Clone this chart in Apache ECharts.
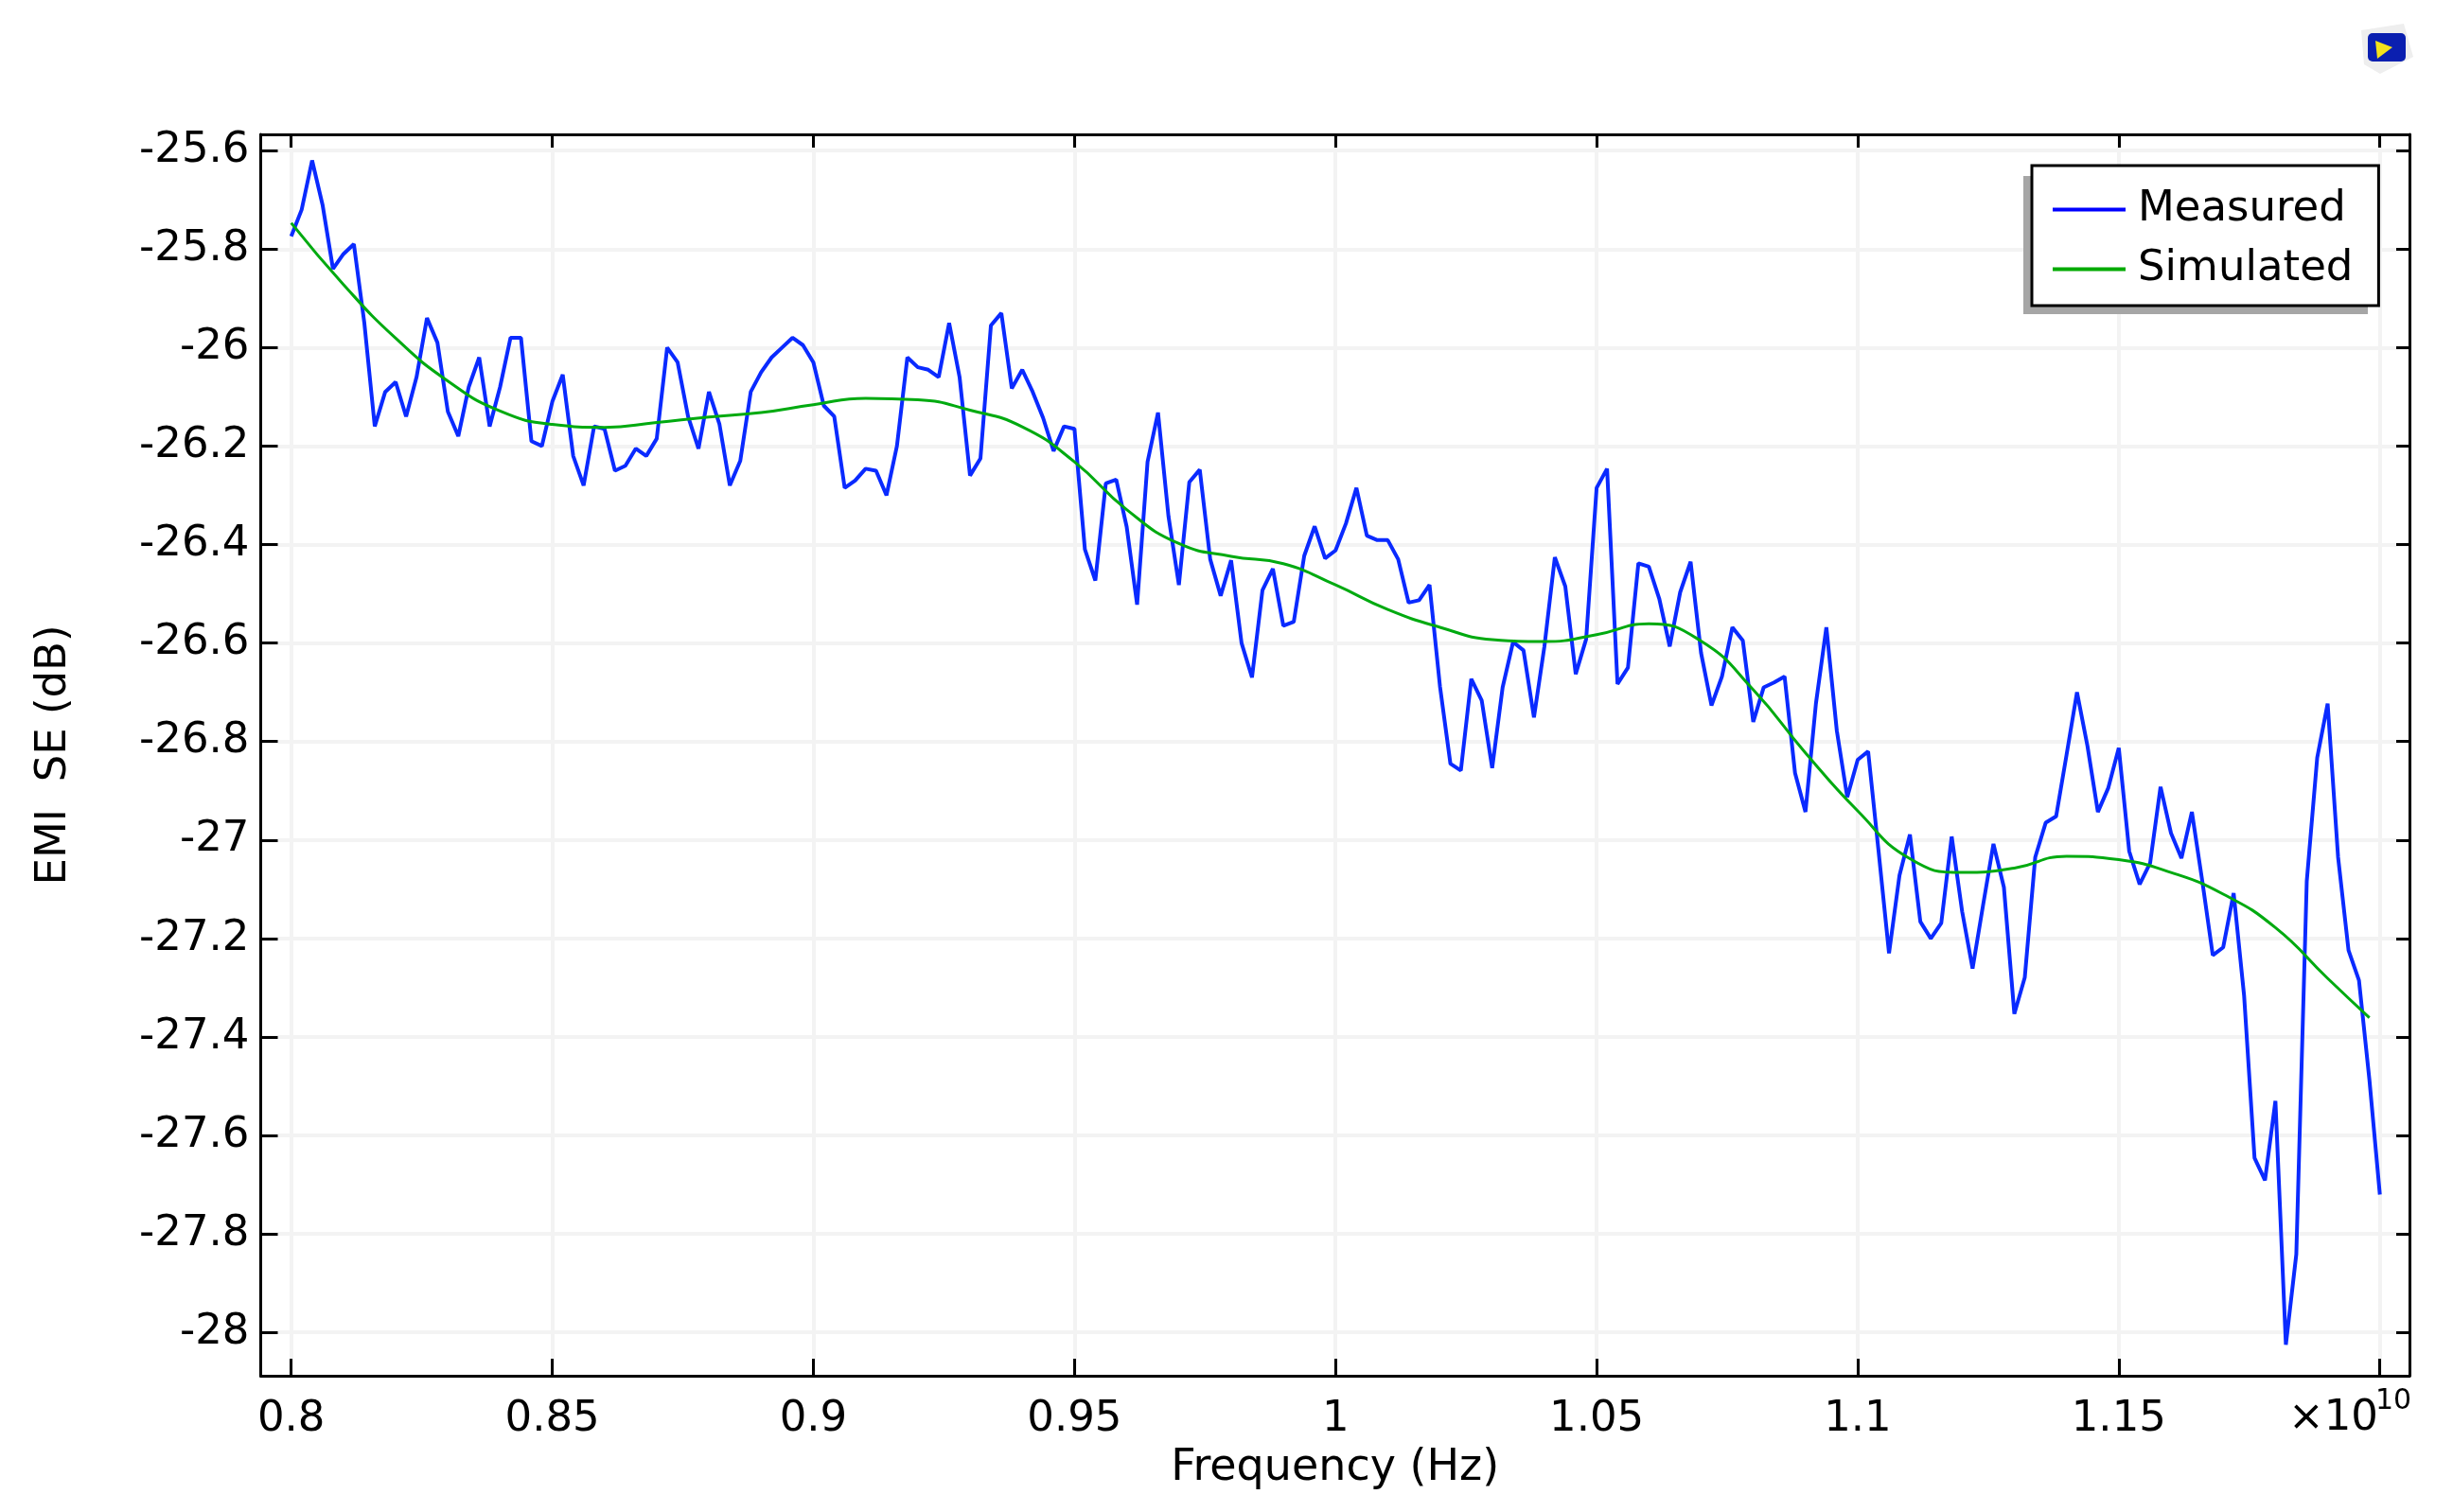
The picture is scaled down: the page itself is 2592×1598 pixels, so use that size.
<!DOCTYPE html>
<html>
<head>
<meta charset="utf-8">
<title>EMI SE</title>
<style>
html,body{margin:0;padding:0;background:#fff;}
#chart{width:2592px;height:1598px;}
</style>
<script src="https://cdn.jsdelivr.net/npm/echarts@6/dist/echarts.min.js"></script>
</head>
<body>
<div id="chart"></div>
<script>
// frequency in units of 1e10 Hz
let measuredFreq = [
0.800,0.802,0.804,0.806,0.808,0.810,0.812,0.814,0.816,0.818,
0.820,0.822,0.824,0.826,0.828,0.830,0.832,0.834,0.836,0.838,
0.840,0.842,0.844,0.846,0.848,0.850,0.852,0.854,0.856,0.858,
0.860,0.862,0.864,0.866,0.868,0.870,0.872,0.874,0.876,0.878,
0.880,0.882,0.884,0.886,0.888,0.890,0.892,0.894,0.896,0.898,
0.900,0.902,0.904,0.906,0.908,0.910,0.912,0.914,0.916,0.918,
0.920,0.922,0.924,0.926,0.928,0.930,0.932,0.934,0.936,0.938,
0.940,0.942,0.944,0.946,0.948,0.950,0.952,0.954,0.956,0.958,
0.960,0.962,0.964,0.966,0.968,0.970,0.972,0.974,0.976,0.978,
0.980,0.982,0.984,0.986,0.988,0.990,0.992,0.994,0.996,0.998,
1.000,1.002,1.004,1.006,1.008,1.010,1.012,1.014,1.016,1.018,
1.020,1.022,1.024,1.026,1.028,1.030,1.032,1.034,1.036,1.038,
1.040,1.042,1.044,1.046,1.048,1.050,1.052,1.054,1.056,1.058,
1.060,1.062,1.064,1.066,1.068,1.070,1.072,1.074,1.076,1.078,
1.080,1.082,1.084,1.086,1.088,1.090,1.092,1.094,1.096,1.098,
1.100,1.102,1.104,1.106,1.108,1.110,1.112,1.114,1.116,1.118,
1.120,1.122,1.124,1.126,1.128,1.130,1.132,1.134,1.136,1.138,
1.140,1.142,1.144,1.146,1.148,1.150,1.152,1.154,1.156,1.158,
1.160,1.162,1.164,1.166,1.168,1.170,1.172,1.174,1.176,1.178,
1.180,1.182,1.184,1.186,1.188,1.190,1.192,1.194,1.196,1.198,
1.200];
let measuredSE = [
-25.774,-25.72,-25.62,-25.71,-25.84,-25.81,-25.79,-25.95,-26.16,-26.09,
-26.07,-26.14,-26.06,-25.94,-25.99,-26.13,-26.18,-26.08,-26.02,-26.16,
-26.08,-25.98,-25.98,-26.19,-26.20,-26.11,-26.055,-26.22,-26.28,-26.16,
-26.165,-26.25,-26.24,-26.205,-26.22,-26.185,-26.0,-26.03,-26.14,-26.205,
-26.09,-26.155,-26.28,-26.23,-26.09,-26.05,-26.02,-26.0,-25.98,-25.995,
-26.03,-26.118,-26.14,-26.285,-26.27,-26.246,-26.25,-26.30,-26.2,-26.02,
-26.04,-26.045,-26.06,-25.95,-26.06,-26.26,-26.225,-25.955,-25.93,-26.083,
-26.045,-26.09,-26.143,-26.21,-26.16,-26.165,-26.41,-26.473,-26.276,-26.268,
-26.364,-26.522,-26.232,-26.132,-26.342,-26.482,-26.273,-26.248,-26.43,-26.504,
-26.432,-26.6,-26.67,-26.493,-26.449,-26.565,-26.557,-26.423,-26.363,-26.428,
-26.412,-26.357,-26.285,-26.382,-26.391,-26.391,-26.43,-26.518,-26.513,-26.482,
-26.688,-26.845,-26.859,-26.673,-26.717,-26.854,-26.69,-26.598,-26.615,-26.751,
-26.607,-26.426,-26.485,-26.663,-26.592,-26.285,-26.246,-26.683,-26.65,-26.438,
-26.445,-26.51,-26.607,-26.497,-26.435,-26.62,-26.727,-26.668,-26.568,-26.595,
-26.76,-26.69,-26.68,-26.668,-26.864,-26.943,-26.723,-26.568,-26.778,-26.913,
-26.837,-26.82,-27.023,-27.23,-27.072,-26.989,-27.166,-27.2,-27.169,-26.993,
-27.145,-27.261,-27.133,-27.008,-27.096,-27.353,-27.279,-27.035,-26.965,-26.952,
-26.827,-26.7,-26.809,-26.943,-26.894,-26.813,-27.023,-27.09,-27.047,-26.892,
-26.986,-27.037,-26.943,-27.084,-27.234,-27.218,-27.108,-27.316,-27.646,-27.691,
-27.53,-28.025,-27.841,-27.084,-26.833,-26.723,-27.035,-27.224,-27.285,-27.487,
-27.72];
let simulatedFreq = [
0.80,0.81,0.82,0.83,0.84,0.85,0.86,0.87,0.88,0.89,
0.90,0.91,0.92,0.93,0.94,0.95,0.96,0.97,0.98,0.99,
1.00,1.01,1.02,1.03,1.04,1.05,1.06,1.07,1.08,1.09,
1.10,1.11,1.12,1.13,1.14,1.15,1.16,1.17,1.18,1.19,1.198];
let simulatedSE = [
-25.747,-25.872,-25.981,-26.068,-26.129,-26.156,-26.162,-26.152,-26.141,-26.132,
-26.116,-26.103,-26.106,-26.127,-26.161,-26.232,-26.329,-26.398,-26.424,-26.439,
-26.482,-26.532,-26.568,-26.593,-26.597,-26.583,-26.561,-26.596,-26.695,-26.823,
-26.941,-27.038,-27.066,-27.057,-27.033,-27.040,-27.066,-27.11,-27.178,-27.281,-27.361];
let xTicks = [0.8,0.85,0.9,0.95,1,1.05,1.1,1.15];
let xGridOnly = [1.2];
let yTicks = [-25.6,-25.8,-26,-26.2,-26.4,-26.6,-26.8,-27,-27.2,-27.4,-27.6,-27.8,-28];

let xMin = 0.79416, xMax = 1.20567;
let yMin = -28.088, yMax = -25.567;
let fontName = '"DejaVu Sans"';

function zip(a,b){
    return a.map(function(v,i){ return [v,b[i]]; });
}

let allXTicks = xTicks.concat(xGridOnly);
let chart = echarts.init(document.getElementById('chart'));
chart.setOption({
    animation:false,
    backgroundColor:'#fff',
    grid:{left:275.5,right:46,top:142,bottom:144,containLabel:false},
    legend:{
        left:2147,top:175,orient:'vertical',selectedMode:false,
        data:['Measured','Simulated'],
        icon:'rect',
        backgroundColor:'#fff',borderColor:'#000',borderWidth:3,
        padding:[19,27,11,22],itemGap:8,itemWidth:77,itemHeight:4,
        textStyle:{fontFamily:fontName,fontSize:45,color:'#000',lineHeight:45,padding:[10,0,0,8]}
    },
    xAxis:[{
        type:'value',min:xMin,max:xMax,position:'bottom',
        name:'Frequency (Hz)',nameLocation:'middle',nameGap:75,
        nameTextStyle:{fontFamily:fontName,fontSize:46,color:'#000'},
        axisLine:{show:true,onZero:false,lineStyle:{color:'#000',width:3}},
        axisTick:{show:true,inside:true,length:18,customValues:allXTicks,lineStyle:{color:'#000',width:3}},
        axisLabel:{customValues:xTicks,margin:24,fontFamily:fontName,fontSize:45,color:'#000'},
        splitLine:{show:true,lineStyle:{color:'#f3f3f3',width:4}}
    },{
        type:'value',min:xMin,max:xMax,position:'top',
        axisLine:{show:true,onZero:false,lineStyle:{color:'#000',width:3}},
        axisTick:{show:true,inside:true,length:14,customValues:allXTicks,lineStyle:{color:'#000',width:3}},
        axisLabel:{show:false},
        splitLine:{show:false}
    }],
    yAxis:[{
        type:'value',min:yMin,max:yMax,position:'left',
        name:'EMI  SE (dB)',nameLocation:'middle',nameGap:196,nameRotate:90,
        nameTextStyle:{fontFamily:fontName,fontSize:45,color:'#000'},
        axisLine:{show:true,onZero:false,lineStyle:{color:'#000',width:3}},
        axisTick:{show:true,inside:true,length:18,customValues:yTicks,lineStyle:{color:'#000',width:3}},
        axisLabel:{customValues:yTicks,margin:12,padding:[8,0,0,0],fontFamily:fontName,fontSize:45,color:'#000'},
        splitLine:{show:true,lineStyle:{color:'#f3f3f3',width:4}}
    },{
        type:'value',min:yMin,max:yMax,position:'right',
        axisLine:{show:true,onZero:false,lineStyle:{color:'#000',width:3}},
        axisTick:{show:true,inside:true,length:14,customValues:yTicks,lineStyle:{color:'#000',width:3}},
        axisLabel:{show:false},
        splitLine:{show:false}
    }],
    series:[{
        name:'Measured',type:'line',showSymbol:false,symbol:'none',
        data:zip(measuredFreq,measuredSE),
        lineStyle:{color:'#0a2aff',width:4},itemStyle:{color:'#0000ff'},
        z:2
    },{
        name:'Simulated',type:'line',showSymbol:false,symbol:'none',smooth:0.5,
        data:zip(simulatedFreq,simulatedSE),
        lineStyle:{color:'#00aa10',width:3},itemStyle:{color:'#00aa00'},
        z:3
    }],
    graphic:[
        // legend drop shadow, drawn apart so its edge stays off the legend fill
        {type:'rect',z:3.5,shape:{x:2138,y:186,width:364,height:146},style:{fill:'#a6a6a6'}},
        {type:'text',left:2418,top:1477,z:10,style:{text:'×10',font:'45px "DejaVu Sans"',fill:'#000'}},
        {type:'text',left:2510,top:1466,z:10,style:{text:'10',font:'30px "DejaVu Sans"',fill:'#000'}},
        // COMSOL badge, top right
        {type:'polygon',z:10,shape:{points:[[2495,32],[2540,25],[2550,60],[2515,78],[2498,68]]},style:{fill:'#eeeeee'}},
        {type:'rect',z:11,shape:{x:2502,y:35,width:40,height:30,r:5},style:{fill:'#0a1fb0'}},
        {type:'polygon',z:12,shape:{points:[[2510,43],[2528,50],[2512,62]]},style:{fill:'#f5e21a'}}
    ]
});
</script>
</body>
</html>
